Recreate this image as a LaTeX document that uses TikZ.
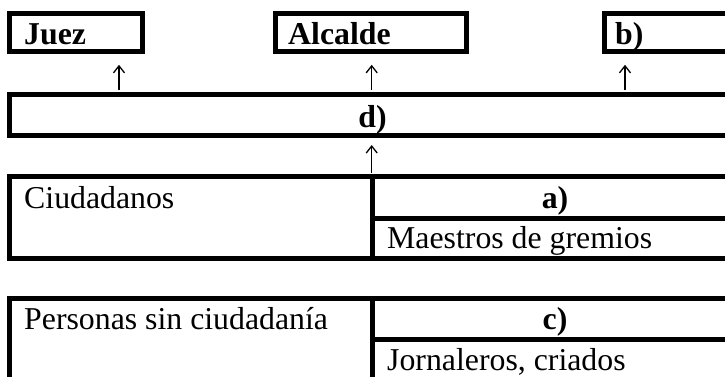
\documentclass[tikz,border=0pt]{standalone}
\usepackage{fontspec}
\setmainfont{Liberation Serif}
\usetikzlibrary{arrows.meta}
\begin{document}
\begin{tikzpicture}[x=1pt,y=-1pt,
  box/.style={draw, line width=5pt, rectangle, inner sep=0pt, outer sep=0pt, anchor=north west},
  rule/.style={line width=5pt},
  txt/.style={inner sep=0pt, font=\fontsize{31.8}{36}\selectfont},
  btxt/.style={inner sep=0pt, font=\fontsize{31.8}{36}\selectfont\bfseries},
  arr/.style={-{Straight Barb[length=7pt,width=11pt]}, line width=1.3pt}]
\useasboundingbox (0,0) rectangle (725,376);
\clip (0,0) rectangle (725,376);
% top boxes
\node[box, minimum width=132.2pt, minimum height=38.3pt] (juez) at (9.8,13.5) {};
\node[box, minimum width=191.5pt, minimum height=38.3pt] (alcalde) at (275,13.5) {};
\node[box, minimum width=140pt, minimum height=38.3pt] (b) at (604,13.5) {};
\node[btxt, anchor=base west] (juezT) at (24,44.5) {Juez};
\node[btxt, anchor=base west] (alcaldeT) at (288,44.5) {Alcalde};
\node[btxt, anchor=base west] (bT) at (615,44.5) {b)};
% d box
\node[box, minimum width=735pt, minimum height=41pt] (d) at (9.8,94) {};
\node[btxt, anchor=base] (dT) at (372.5,127) {d)};
% Ciudadanos table
\node[box, minimum width=735pt, minimum height=82pt] (ciud) at (9.8,176.5) {};
\coordinate (div) at (372.5,0);
\draw[rule] (ciud.north -| div) -- (ciud.south -| div);
\draw[rule] (div |- 0,218) -- (ciud.east |- 0,218);
\node[txt, anchor=base west] (ciudT) at (24,208) {Ciudadanos};
\node[btxt, anchor=base] (aT) at (555,208) {a)};
\node[txt, anchor=base west] (maesT) at (387,248) {Maestros de gremios};
% Personas table
\node[box, minimum width=735pt, minimum height=82.5pt] (pers) at (9.8,298.5) {};
\draw[rule] (pers.north -| div) -- (pers.south -| div);
\draw[rule] (div |- 0,339.7) -- (pers.east |- 0,339.7);
\node[txt, anchor=base west] (persT) at (24,329.5) {Personas sin ciudadanía};
\node[btxt, anchor=base] (cT) at (555,329.5) {c)};
\node[txt, anchor=base west] (jornT) at (387,370) {Jornaleros, criados};
% arrows
\coordinate (xj) at (119,0);
\coordinate (xa) at (371.7,0);
\coordinate (xb) at (625,0);
\draw[arr, shorten <=4pt, shorten >=13pt] (d.north -| xj) -- (juez.south -| xj);
\draw[arr, shorten <=4pt, shorten >=13pt] (d.north -| xa) -- (alcalde.south -| xa);
\draw[arr, shorten <=4pt, shorten >=13pt] (d.north -| xb) -- (b.south -| xb);
\draw[arr, shorten <=4pt, shorten >=10pt] (ciud.north -| xa) -- (d.south -| xa);
\end{tikzpicture}
\end{document}
